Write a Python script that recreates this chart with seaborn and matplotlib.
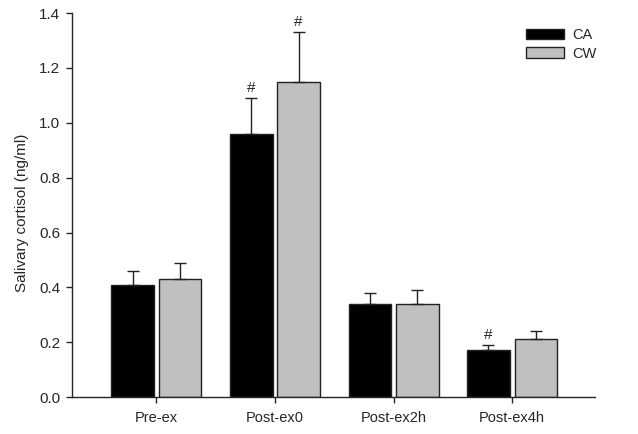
import matplotlib
matplotlib.use("Agg")
import matplotlib.pyplot as plt
import seaborn as sns
import pandas as pd
import numpy as np

# values
phases = ["Pre-ex", "Post-ex0", "Post-ex2h", "Post-ex4h"]
groups = ["CA", "CW"]
ca_mean = [0.41, 0.96, 0.34, 0.17]
cw_mean = [0.43, 1.15, 0.34, 0.21]
ca_err = [0.05, 0.13, 0.04, 0.02]
cw_err = [0.06, 0.18, 0.05, 0.03]
ca_sig = [False, True, False, True]
cw_sig = [False, True, False, False]

df = pd.DataFrame({
    "phase": phases * 2,
    "group": ["CA"] * 4 + ["CW"] * 4,
    "cortisol": ca_mean + cw_mean,
})

sns.set_style("ticks")
plt.rcParams["font.family"] = ["Liberation Sans", "DejaVu Sans"]

fig = plt.figure(figsize=(6.38, 4.34), dpi=100)
ax = fig.add_axes([0.113, 0.085, 0.82, 0.885])

sns.barplot(data=df, x="phase", y="cortisol", hue="group", order=phases,
            hue_order=groups, palette=["black", "#c0c0c0"], errorbar=None,
            width=0.8, gap=0.1, edgecolor="#222222", linewidth=1.0, ax=ax)

x = np.arange(len(phases))
offset = 0.2
for means, errs, sig, shift in [(ca_mean, ca_err, ca_sig, -offset),
                                (cw_mean, cw_err, cw_sig, offset)]:
    ax.errorbar(x + shift, means, yerr=[np.zeros(len(errs)), errs], fmt="none",
                ecolor="#222222", elinewidth=1.0, capsize=4, capthick=1.0, zorder=3)
    for xi, m, e, s in zip(x + shift, means, errs, sig):
        if s:
            ax.text(xi, m + e + 0.012, "#", ha="center", va="bottom", fontsize=11)

ax.set_xlim(-0.71, 3.7)
ax.set_ylim(0, 1.4)
ax.set_yticks(np.arange(0, 1.41, 0.2))
ax.set_yticklabels([f"{v:.1f}" for v in np.arange(0, 1.41, 0.2)])
ax.set_xlabel("")
ax.set_ylabel("Salivary cortisol (ng/ml)", fontsize=11)
ax.yaxis.set_label_coords(-0.083, 0.48)
ax.tick_params(axis="both", direction="out", length=4, width=1)
ax.tick_params(axis="y", labelsize=11, pad=4.5)
ax.tick_params(axis="x", labelsize=10.5, pad=6)
sns.despine(ax=ax)
for sp in ["left", "bottom"]:
    ax.spines[sp].set_linewidth(1.0)

fig.legend(*ax.get_legend_handles_labels(), loc="upper left",
           bbox_to_anchor=(0.824, 0.935), bbox_transform=fig.transFigure,
           frameon=False, fontsize=10.5, handlelength=2.6, handleheight=0.7,
           handletextpad=0.6, labelspacing=0.3, borderpad=0, borderaxespad=0)
ax.get_legend().remove()

fig.savefig("out.png", dpi=100)
